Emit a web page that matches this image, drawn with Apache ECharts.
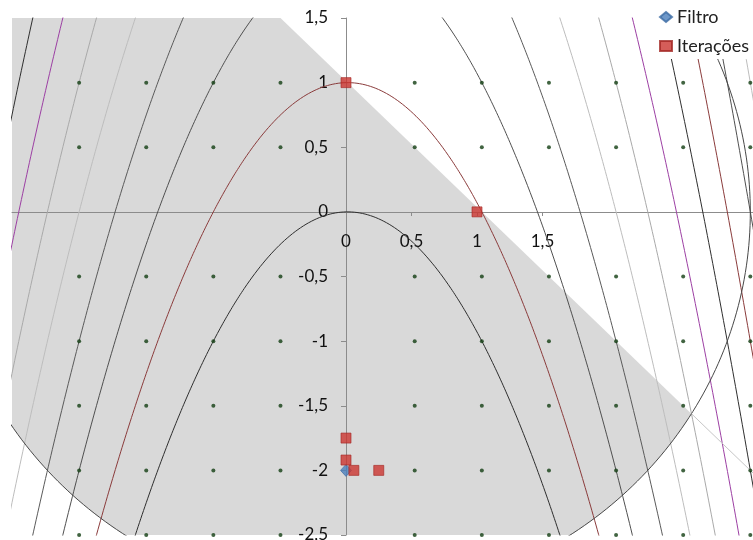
<!DOCTYPE html>
<html>
<head>
<meta charset="utf-8">
<script src="https://cdn.jsdelivr.net/npm/echarts@6/dist/echarts.min.js"></script>
<style>
  html, body { margin: 0; padding: 0; background: #ffffff; }
  #chart { width: 753px; height: 540px; }
</style>
</head>
<body>
<div id="chart"></div>
<script>
// Filter point and the iterates of the method
const filtroPts = [[0, -2]];
const iteracoesPts = [[0, 1], [1, 0], [0, -1.75], [0, -1.92], [0.06, -2], [0.25, -2]];

// Level sets of f(x, y) = x^2 + y, one stroke colour per level
const levels = [0, 1, 2, 3, 4, 5, 6, 7, 8, 9, 10];
const levelColors = ['#2e2e2e', '#8a3b3b', '#4f4f4f', '#5a5a5a', '#bdbdbd', '#a9a9a9',
                     '#9c3fa3', '#2e2e2e', '#8a3b3b', '#4f4f4f', '#bdbdbd'];

// Constraints: x^2 + y^2 <= r^2 and x + y <= s
const circleRadius = 3;
const lineSum = 1;

// Reference dots of the background lattice
const dotX = [-2, -1.5, -1, -0.5, 0.5, 1, 1.5, 2, 2.5, 3];
const dotY = [-2.5, -2, -1.5, -1, -0.5, 0.5, 1];

// Tick labels
const xTickLabels = ['0', '0,5', '1', '1,5'];
const yTickLabels = ['-2,5', '-2', '-1,5', '-1', '-0,5', '0', '0,5', '1', '1,5'];

// Window of the background drawing and of the data axes
const bgX = [-2.5, 3.02];
const xRange = [-2.5, 3.1];
const yRange = [-2.5, 1.5];

// ---- geometry built from the values above ----
function arc(a0, a1, n) {
  const pts = [];
  for (let i = 1; i < n; i++) {
    const a = a0 + (a1 - a0) * i / n;
    pts.push([circleRadius * Math.cos(a), circleRadius * Math.sin(a)]);
  }
  return pts;
}
const R = circleRadius;
const xA = (lineSum + Math.sqrt(2 * R * R - lineSum * lineSum)) / 2;
const yA = lineSum - xA;
const xBot = Math.sqrt(R * R - yRange[0] * yRange[0]);
const yLeft = -Math.sqrt(R * R - bgX[0] * bgX[0]);
const feasible = [
  [bgX[0], yRange[1]],
  [lineSum - yRange[1], yRange[1]],
  [xA, yA],
  ...arc(Math.atan2(yA, xA), Math.atan2(yRange[0], xBot), 40),
  [xBot, yRange[0]],
  [-xBot, yRange[0]],
  ...arc(Math.atan2(yRange[0], -xBot), Math.atan2(yLeft, bgX[0]), 40),
  [bgX[0], yLeft]
];

function levelCurve(c) {
  const pts = [];
  for (let i = -320; i <= 320; i++) {
    const x = i / 100;
    const y = c - x * x;
    if (y >= yRange[0] - 0.3) pts.push([x, y]);
  }
  return pts;
}
const circlePts = [];
for (let d = 0; d <= 360; d++) {
  const a = d * Math.PI / 180;
  circlePts.push([R * Math.cos(a), R * Math.sin(a)]);
}
const linePts = [[xA, yA], [3.2, lineSum - 3.2]];
const dots = [];
dotX.forEach(x => dotY.forEach(y => dots.push([x, y])));

const font = 'Lato, "Open Sans", sans-serif';
const axisGrey = '#8c8c8c';
const labelColor = '#111111';

const series = [
  {
    type: 'custom', xAxisIndex: 0, yAxisIndex: 0, z: -1, silent: true,
    data: [[0, 0]],
    renderItem: (params, api) => ({
      type: 'polygon',
      shape: { points: feasible.map(p => api.coord(p)) },
      style: { fill: '#d9d9d9', stroke: null }
    })
  }
];
levels.forEach((c, i) => {
  series.push({
    type: 'line', xAxisIndex: 0, yAxisIndex: 0, z: 1, silent: true,
    data: levelCurve(c), symbol: 'none', clip: true,
    lineStyle: { color: levelColors[i], width: 1 }
  });
});
series.push({
  type: 'line', xAxisIndex: 0, yAxisIndex: 0, z: 1, silent: true,
  data: circlePts, symbol: 'none', clip: true,
  lineStyle: { color: '#474747', width: 1 }
});
series.push({
  type: 'line', xAxisIndex: 0, yAxisIndex: 0, z: 1, silent: true,
  data: linePts, symbol: 'none', clip: true,
  lineStyle: { color: '#c6c6c6', width: 1 }
});
series.push({
  type: 'scatter', xAxisIndex: 0, yAxisIndex: 0, z: 1, silent: true,
  data: dots, symbol: 'circle', symbolSize: 4,
  itemStyle: { color: '#123d12' }
});
series.push({
  name: 'Filtro', type: 'scatter', xAxisIndex: 1, yAxisIndex: 1, z: 5,
  data: filtroPts, symbol: 'diamond', symbolSize: [11, 12],
  itemStyle: { color: '#4a7ebb', borderColor: '#3b6aa3', borderWidth: 0.8 }
});
series.push({
  name: 'Iterações', type: 'scatter', xAxisIndex: 1, yAxisIndex: 1, z: 6,
  data: iteracoesPts, symbol: 'rect', symbolSize: 10,
  itemStyle: { color: '#cb3430', borderColor: '#a32824', borderWidth: 0.8 }
});

const hidden = { show: false };
const noBounds = { containLabel: false, outerBoundsMode: 'none' };

const chart = echarts.init(document.getElementById('chart'), null, { renderer: 'canvas' });
chart.setOption({
  animation: false,
  backgroundColor: '#ffffff',
  grid: [
    // background drawing
    Object.assign({ left: 12, right: 0, top: 18, bottom: 5 }, noBounds),
    // data marks
    Object.assign({ left: 18.5, right: 0.9, top: 18, bottom: 5 }, noBounds),
    // vertical axis through x = 0
    Object.assign({ left: 346, right: 0, top: 18, bottom: 5 }, noBounds),
    // labelled part of the horizontal axis, through y = 0
    Object.assign({ left: 346, right: 177.75, top: 18, bottom: 328 }, noBounds)
  ],
  xAxis: [
    {
      gridIndex: 0, type: 'value', min: bgX[0], max: bgX[1],
      axisLine: { show: true, onZero: true, lineStyle: { color: axisGrey, width: 1 } },
      axisTick: hidden, axisLabel: hidden, splitLine: hidden
    },
    { gridIndex: 1, type: 'value', min: xRange[0], max: xRange[1], show: false },
    { gridIndex: 2, type: 'value', min: 0, max: 1, show: false },
    {
      gridIndex: 3, type: 'value', min: 0, max: 1.75, interval: 0.5, position: 'bottom',
      axisLine: { show: true, onZero: false, lineStyle: { color: axisGrey, width: 1 } },
      axisTick: { show: true, length: 4, lineStyle: { color: axisGrey } },
      axisLabel: {
        margin: 21, fontSize: 17, fontFamily: font, color: labelColor,
        showMaxLabel: false,
        formatter: (v, i) => xTickLabels[i] || ''
      },
      splitLine: hidden
    }
  ],
  yAxis: [
    { gridIndex: 0, type: 'value', min: yRange[0], max: yRange[1], show: false },
    { gridIndex: 1, type: 'value', min: yRange[0], max: yRange[1], show: false },
    {
      gridIndex: 2, type: 'value', min: yRange[0], max: yRange[1], interval: 0.5, position: 'left',
      axisLine: { show: true, onZero: false, lineStyle: { color: axisGrey, width: 1 } },
      axisTick: { show: true, length: 5, lineStyle: { color: axisGrey } },
      axisLabel: {
        margin: 18, fontSize: 17, fontFamily: font, color: labelColor,
        showMinLabel: true, showMaxLabel: true,
        formatter: (v, i) => yTickLabels[i]
      },
      splitLine: hidden
    },
    { gridIndex: 3, type: 'value', min: 0, max: yRange[1], show: false }
  ],
  legend: {
    data: ['Filtro', 'Iterações'],
    orient: 'vertical', left: 655, top: 4,
    backgroundColor: '#ffffff', padding: [4, 4, 4, 4],
    itemGap: 11, itemWidth: 12, itemHeight: 10,
    textStyle: { fontSize: 18, fontFamily: font, color: '#222' }
  },
  series: series
});
</script>
</body>
</html>
